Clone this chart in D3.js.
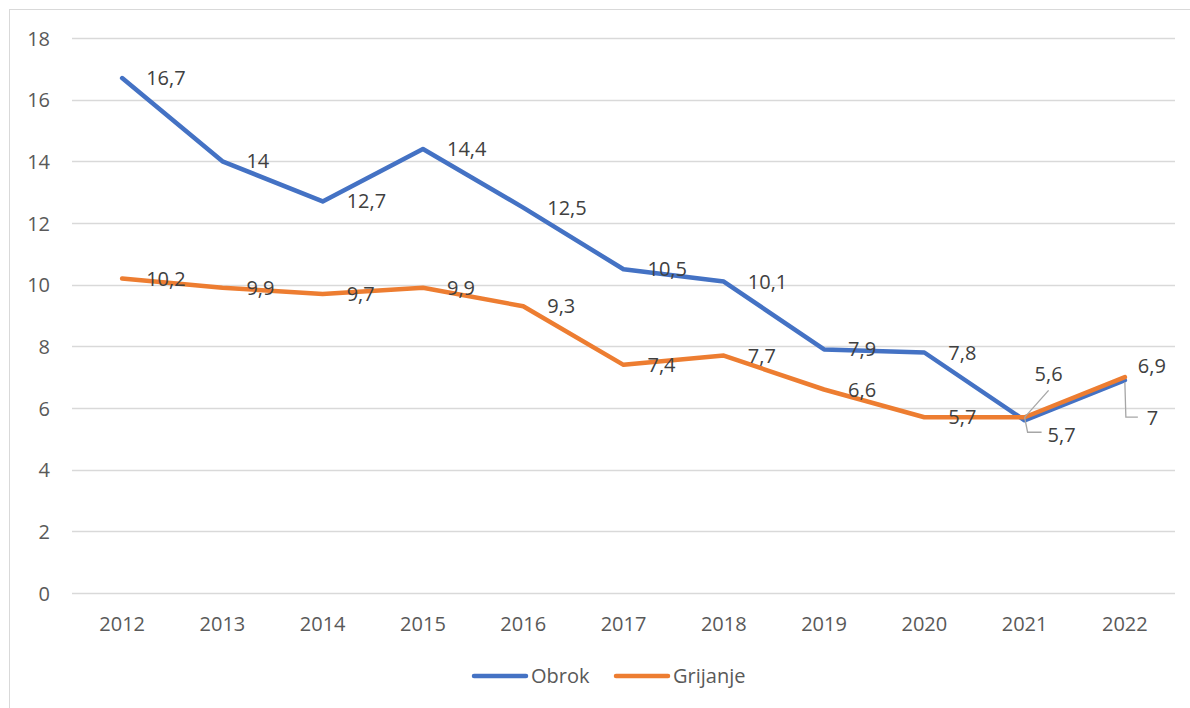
<!DOCTYPE html>
<html>
<head>
<meta charset="utf-8">
<script src="https://cdn.jsdelivr.net/npm/d3@7"></script>
<style>
  html, body { margin: 0; padding: 0; background: #fff; }
  svg text { font-family: "Open Sans", "Liberation Sans", sans-serif; }
</style>
</head>
<body>
<svg id="chart" width="1190" height="708"></svg>
<script>
// Years on the category axis
const years = ["2012","2013","2014","2015","2016","2017","2018","2019","2020","2021","2022"];
// Series values
const obrok    = [16.7, 14, 12.7, 14.4, 12.5, 10.5, 10.1, 7.9, 7.8, 5.6, 6.9];
const grijanje = [10.2, 9.9, 9.7, 9.9, 9.3, 7.4, 7.7, 6.6, 5.7, 5.7, 7];
// Value-axis ticks
const yTicks = [0, 2, 4, 6, 8, 10, 12, 14, 16, 18];
const seriesNames = ["Obrok", "Grijanje"];
const colors = ["#4472C4", "#ED7D31"];

const svg = d3.select("#chart");
const W = 1190, H = 708;
const margin = { left: 72, right: 15, top: 38, bottom: 115 };
const FS = "20px";

// Chart area frame
svg.append("rect")
  .attr("x", 9.5).attr("y", 9.5)
  .attr("width", W + 20).attr("height", H + 20)
  .attr("fill", "#fff").attr("stroke", "#d9d9d9").attr("stroke-width", 1);

const x = d3.scaleBand().domain(years).range([margin.left, W - margin.right]);
const y = d3.scaleLinear().domain([0, 18]).range([H - margin.bottom, margin.top]);
const cx = d => x(d) + x.bandwidth() / 2;
const fmt = v => String(v).replace(".", ",");

// Horizontal gridlines
svg.append("g").selectAll("line").data(yTicks).join("line")
  .attr("x1", margin.left).attr("x2", W - margin.right)
  .attr("y1", d => Math.round(y(d)) + 0.5).attr("y2", d => Math.round(y(d)) + 0.5)
  .attr("stroke", "#d9d9d9").attr("stroke-width", 1.3);

// Value axis labels
const yAxis = d3.axisLeft(y).tickValues(yTicks).tickSize(0).tickPadding(0).tickFormat(d => d);
const gy = svg.append("g").attr("transform", `translate(${margin.left - 22},0)`).call(yAxis);
gy.select(".domain").remove();
gy.selectAll("text").attr("fill", "#595959").style("font-size", FS).attr("dy", "0.35em");

// Category axis labels
const xAxis = d3.axisBottom(x).tickSize(0).tickPadding(0);
const gx = svg.append("g").attr("transform", `translate(0,${H - margin.bottom})`).call(xAxis);
gx.select(".domain").remove();
gx.selectAll("text").attr("fill", "#595959").style("font-size", FS).attr("y", 38).attr("dy", 0);

const line = d3.line().x((d, i) => cx(years[i])).y(d => y(d));
const allSeries = [obrok, grijanje];

// Series lines
allSeries.forEach((s, k) => {
  svg.append("path").datum(s)
    .attr("d", line)
    .attr("fill", "none")
    .attr("stroke", colors[k])
    .attr("stroke-width", 4.5)
    .attr("stroke-linejoin", "round")
    .attr("stroke-linecap", "round");
});

// Data labels: right of each point, except the last two years, which use leader lines
const labels = svg.append("g").style("font-size", FS).attr("fill", "#404040");
allSeries.forEach((s, k) => {
  s.forEach((v, i) => {
    if (i >= 9) return;
    labels.append("text")
      .attr("x", cx(years[i]) + 24)
      .attr("y", y(v))
      .attr("dy", "0.35em")
      .text(fmt(v));
  });
});

// Leader-line labels for 2021 and 2022
const leader = svg.append("g").attr("fill", "none").attr("stroke", "#a6a6a6").attr("stroke-width", 1.3);
const p21o = [cx("2021"), y(obrok[9])], p21g = [cx("2021"), y(grijanje[9])];
const p22o = [cx("2022"), y(obrok[10])], p22g = [cx("2022"), y(grijanje[10])];

// Obrok 2021 label above-right
leader.append("path").attr("d", `M${p21o[0]},${p21o[1] - 3} L${p21o[0] + 24},${p21o[1] - 30}`);
labels.append("text").attr("x", p21o[0] + 10).attr("y", p21o[1] - 46).attr("dy", "0.35em").text(fmt(obrok[9]));

// Grijanje 2021 label below-right
leader.append("path").attr("d", `M${p21g[0]},${p21g[1]} L${p21g[0] + 3},${p21g[1] + 15} L${p21g[0] + 17},${p21g[1] + 15}`);
labels.append("text").attr("x", p21g[0] + 23).attr("y", p21g[1] + 18).attr("dy", "0.35em").text(fmt(grijanje[9]));

// Obrok 2022 label above-right
labels.append("text").attr("x", p22o[0] + 13).attr("y", p22o[1] - 14).attr("dy", "0.35em").text(fmt(obrok[10]));

// Grijanje 2022 label below-right
leader.append("path").attr("d", `M${p22g[0]},${p22g[1] + 5} L${p22g[0] + 1},${p22g[1] + 40} L${p22g[0] + 13},${p22g[1] + 40}`);
labels.append("text").attr("x", p22g[0] + 22).attr("y", p22g[1] + 41).attr("dy", "0.35em").text(fmt(grijanje[10]));

// Legend
const legend = svg.append("g");
const legendItems = [{ x: 474, name: seriesNames[0], c: colors[0] }, { x: 616, name: seriesNames[1], c: colors[1] }];
legendItems.forEach(it => {
  legend.append("line")
    .attr("x1", it.x).attr("x2", it.x + 52)
    .attr("y1", 676).attr("y2", 676)
    .attr("stroke", it.c).attr("stroke-width", 4.5).attr("stroke-linecap", "round");
  legend.append("text")
    .attr("x", it.x + 57).attr("y", 676).attr("dy", "0.35em")
    .attr("fill", "#595959").style("font-size", FS)
    .text(it.name);
});
</script>
</body>
</html>
